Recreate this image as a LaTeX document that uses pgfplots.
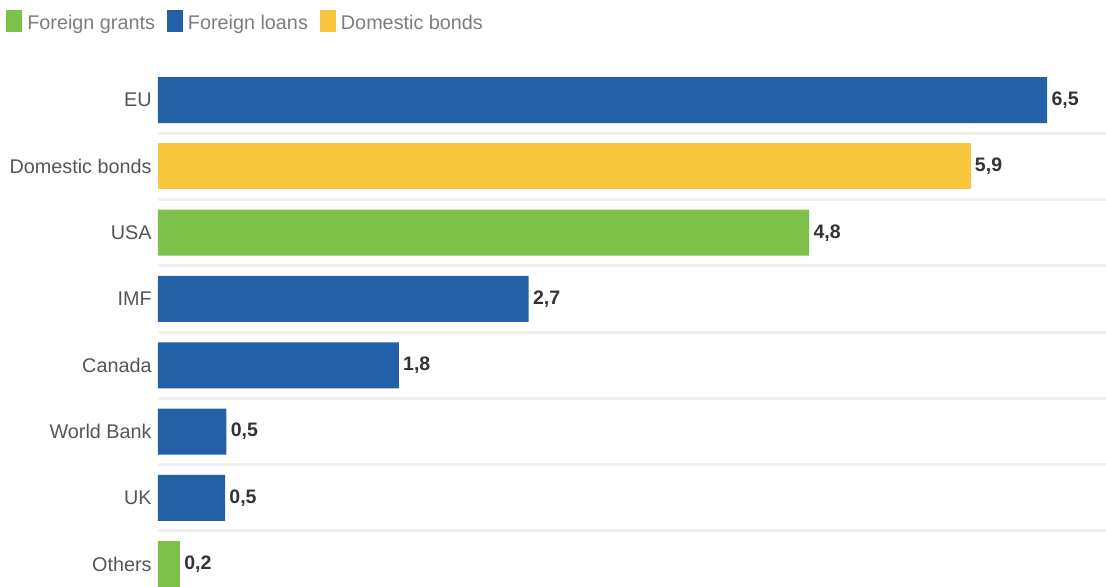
\documentclass[border=0pt]{standalone}
\usepackage{fontspec}
\setmainfont{Liberation Sans}
\usepackage{pgfplots}
\pgfplotsset{compat=1.18}
\definecolor{cblue}{RGB}{36,96,166}
\definecolor{cyel}{RGB}{248,199,62}
\definecolor{cgreen}{RGB}{125,192,74}
\definecolor{lbl}{RGB}{85,85,85}
\definecolor{val}{RGB}{51,51,51}
\definecolor{legtext}{RGB}{125,125,125}
\pgfplotsset{mylegend/.style={legend image code/.code={\fill[##1] (0pt,-4pt) rectangle (8pt,7pt);}}}
\begin{document}
\begin{tikzpicture}[font=\fontsize{9.9}{11}\selectfont]
\useasboundingbox (-79pt,0pt) rectangle (474pt,293pt);
\begin{axis}[
 at={(0,0)}, anchor=south west,
 scale only axis, width=474pt, height=259.5pt,
 xbar,
 every axis plot/.append style={bar width=23pt, bar shift=0pt},
 xmin=0, xmax=6.93, ymin=-0.33, ymax=7.5,
 axis line style={draw=none},
 xtick=\empty,
 ytick={0,...,7},
 yticklabels={Others,UK,World Bank,Canada,IMF,USA,Domestic bonds,EU},
 yticklabel style={color=lbl, inner sep=0pt, xshift=-3pt},
 major tick length=0pt, minor tick length=0pt,
 minor ytick={0.5,1.5,...,6.5},
 yminorgrids=true,
 minor grid style={color=black!6, line width=1.5pt},
 nodes near coords={\pgfmathprintnumber[fixed,fixed zerofill,precision=1,use comma,assume math mode=true]{\pgfplotspointmeta}},
 nodes near coords style={font=\fontsize{9.75}{11}\selectfont\bfseries, color=val, anchor=west, inner sep=2pt},
 legend columns=-1,
 legend style={at={(axis description cs:-0.160,1.110)}, anchor=north west, draw=none, fill=none, inner sep=0pt, outer sep=0pt, column sep=2.5pt, nodes={inner sep=0pt, text=legtext}, /tikz/every even column/.append style={column sep=6pt}},
]
\addplot[fill=cgreen, draw=none, mylegend] coordinates {(4.76,5) (0.16,0)};
\addplot[fill=cblue, draw=none, mylegend] coordinates {(6.5,7) (2.71,4) (1.76,3) (0.50,2) (0.49,1)};
\addplot[fill=cyel, draw=none, mylegend] coordinates {(5.94,6)};
\legend{Foreign grants, Foreign loans, Domestic bonds}
\end{axis}
\end{tikzpicture}
\end{document}
